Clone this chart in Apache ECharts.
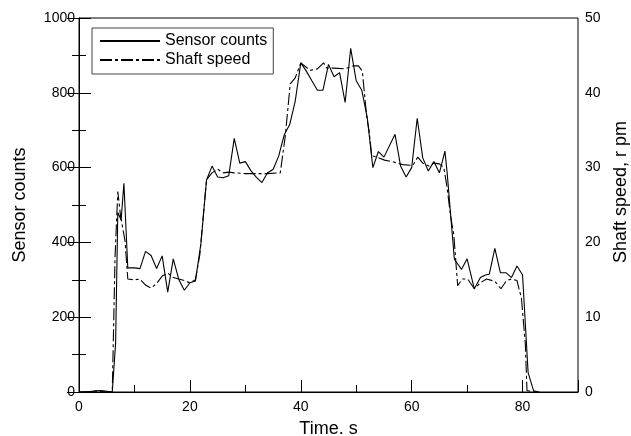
<!DOCTYPE html>
<html>
<head>
<meta charset="utf-8">
<script src="https://cdn.jsdelivr.net/npm/echarts@6/dist/echarts.min.js"></script>
<style>
html,body{margin:0;padding:0;background:#fff;}
#chart{width:631px;height:436px;}
</style>
</head>
<body>
<div id="chart"></div>
<script>
// Time (s) and sensor counts
var sensorTime = [0,1,2,3,4,5,6,6.6,7,7.6,8.1,8.8,10,11,12,13,14,15,16,17,18,19,20,21,22,23,24,25,26,27,28,29,30,31,32,33,34,35,36,37,38,39,40,41,42,43,44,45,46,47,48,49,50,51,52,53,54,55,57,58,59,60,61,62,63,64,65,66,66.4,67.7,69,70,71.3,72.4,73.3,74,75,76,77,78,79,80,81,82,83];
var sensorCounts = [0,0,1,3,4,2,0,130,480,460,558,332,332,330,376,365,330,364,267,356,301,272,292,297,398,567,604,575,573,578,678,612,616,592,574,560,586,595,630,687,715,778,880,858,832,807,807,876,843,854,774,919,832,807,733,600,643,628,689,604,575,600,732,626,591,616,586,644,586,355,328,356,276,306,313,315,384,319,319,306,337,313,52,3,0];
// Time (s) and shaft speed (r pm)
var shaftTime = [0,3,6,6.5,7,7.5,8.3,8.8,10,11,12,13,14,15,16,17,18,19,20,21,21.8,23,24,25,26,27,28,30,32,34,36.3,37.2,38.1,39,40,41.7,43,44.1,44.7,46,48,49.5,50.4,51.1,51.9,52.3,52.8,53.7,55.1,56.5,58.4,60.2,61.1,62,63.1,64,65,65.8,66.4,67,67.6,68.3,69.1,70.1,71.3,72.4,73.5,75,76.1,77.1,78,79,79.8,80.5,80.8,82,83];
var shaftSpeed = [0,0.1,0,18,26.8,23.5,20.2,15.1,15,15.1,14.3,13.9,14.5,15.5,15.9,15.3,15.1,14.9,14.6,15,18.4,28.4,29.3,29.8,29.3,29.4,29.3,29.2,29.2,29.2,29.3,34.2,41.2,42,44,43,43.2,44,43.3,43.3,43.2,43.6,43.6,42.9,36.7,35,31.6,31.4,31,30.8,30.4,30.3,31.4,30.6,30.2,30.6,30.5,30,27.3,23.6,21,14.2,15.1,15.1,13.8,14.6,15.1,14.8,13.8,14.9,15.1,14.9,12.5,6.4,0.2,0,0];

var xLabels = [0,20,40,60,80];
var seriesNames = ['Sensor counts', 'Shaft speed'];

function pairs(xs, ys){ return xs.map(function(x,i){ return [x, ys[i]]; }); }

var FONT = 'Liberation Sans, Arial, Helvetica, sans-serif';
var chart = echarts.init(document.getElementById('chart'), null, {renderer:'canvas'});
chart.setOption({
  animation: false,
  backgroundColor: '#fff',
  grid: {left: 79, right: 53, top: 18, bottom: 44, show: true, borderColor: '#000', borderWidth: 1,
    backgroundColor: 'transparent', containLabel: false, outerBoundsMode: 'none'},
  legend: {
    orient: 'vertical', left: 92, top: 28,
    padding: [5, 6, 6, 7],
    itemWidth: 60, itemHeight: 14, itemGap: 3,
    borderColor: '#444', borderWidth: 1,
    itemStyle: {opacity: 0},
    textStyle: {fontFamily: FONT, fontSize: 16, color: '#000', padding: [0,0,0,0]},
    data: seriesNames
  },
  xAxis: [{
    type: 'value', min: 0, max: 90, interval: 10,
    name: 'Time. s', nameLocation: 'middle', nameGap: 28,
    nameTextStyle: {fontFamily: FONT, fontSize: 18, color: '#000'},
    axisLine: {show: true, lineStyle: {color: '#000', width: 1}},
    axisTick: {show: true, inside: true, length: 7, lineStyle: {color: '#000'}},
    axisLabel: {fontFamily: FONT, fontSize: 14, color: '#000', margin: 8,
      formatter: function(v){ return xLabels.indexOf(v) >= 0 ? String(v) : ''; }},
    splitLine: {show: false}
  }, {
    type: 'value', min: 0, max: 90, interval: 20, position: 'bottom', offset: 0,
    axisLine: {show: false},
    axisTick: {show: true, inside: true, length: 12, lineStyle: {color: '#000'}},
    axisLabel: {show: false},
    splitLine: {show: false}
  }],
  yAxis: [{
    type: 'value', min: 0, max: 1000, interval: 200, position: 'left',
    name: 'Sensor counts', nameLocation: 'middle', nameGap: 50,
    nameTextStyle: {fontFamily: FONT, fontSize: 18, color: '#000'},
    axisLine: {show: true, lineStyle: {color: '#000', width: 1}},
    axisTick: {show: true, inside: true, length: 12, lineStyle: {color: '#000'}},
    minorTick: {show: true, splitNumber: 2, length: 7, lineStyle: {color: '#000'}},
    axisLabel: {fontFamily: FONT, fontSize: 14, color: '#000', margin: 4,
      formatter: function(v){ return String(v); }},
    splitLine: {show: false}
  }, {
    type: 'value', min: 0, max: 50, interval: 10, position: 'right',
    name: 'Shaft speed, r pm', nameLocation: 'middle', nameGap: 34,
    nameTextStyle: {fontFamily: FONT, fontSize: 18, color: '#000', padding: [0, 0, 0, 26]},
    axisLine: {show: true, lineStyle: {color: '#000', width: 1}},
    axisTick: {show: true, inside: true, length: 12, lineStyle: {color: '#000'}},
    minorTick: {show: true, splitNumber: 2, length: 7, lineStyle: {color: '#000'}},
    axisLabel: {fontFamily: FONT, fontSize: 14, color: '#000', margin: 7,
      formatter: function(v){ return String(v); }},
    splitLine: {show: false}
  }],
  series: [{
    name: seriesNames[0], type: 'line', xAxisIndex: 0, yAxisIndex: 0,
    data: pairs(sensorTime, sensorCounts),
    symbol: 'none', showSymbol: false,
    lineStyle: {color: '#000', width: 1.1, type: 'solid'},
    itemStyle: {color: '#000'}
  }, {
    name: seriesNames[1], type: 'line', xAxisIndex: 0, yAxisIndex: 1,
    data: pairs(shaftTime, shaftSpeed),
    symbol: 'none', showSymbol: false,
    lineStyle: {color: '#000', width: 1.1, type: [12, 3, 3, 3]},
    itemStyle: {color: '#000'}
  }]
});
</script>
</body>
</html>
